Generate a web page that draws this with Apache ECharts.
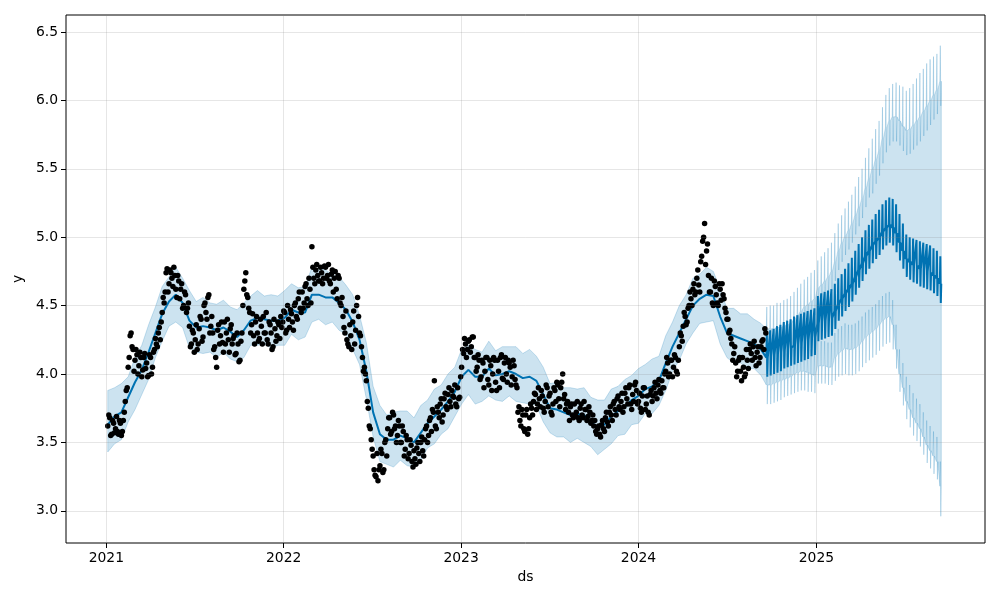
<!DOCTYPE html>
<html><head><meta charset="utf-8">
<script src="https://cdn.jsdelivr.net/npm/echarts@6/dist/echarts.min.js"></script>
<style>html,body{margin:0;padding:0;background:#fff}#c{width:1000px;height:600px}</style>
</head><body><div id="c"></div>
<script>
// ---------- data ----------
const yearTicks = ['2021', '2022', '2023', '2024', '2025'];
const yTicks = [3.0, 3.5, 4.0, 4.5, 5.0, 5.5, 6.0, 6.5];

// observed points, one every 4 days from 2021-01-04
const obsStart = '2021-01-04';
const obsStepDays = 4;
const obsValues = [
  3.62,3.68,3.56,3.64,3.60,3.58,3.66,3.55,3.66,3.80,
  3.90,4.12,4.30,4.18,4.10,4.14,4.06,4.12,4.03,4.15,
  4.08,3.99,4.12,4.05,4.18,4.22,4.30,4.25,4.45,4.52,
  4.74,4.60,4.76,4.70,4.78,4.62,4.72,4.55,4.66,4.50,
  4.58,4.48,4.35,4.22,4.30,4.25,4.18,4.33,4.40,4.27,
  4.52,4.40,4.58,4.35,4.30,4.20,4.05,4.36,4.28,4.23,
  4.38,4.30,4.25,4.33,4.22,4.28,4.15,4.22,4.10,4.30,
  4.62,4.74,4.56,4.45,4.36,4.28,4.38,4.30,4.26,4.35,
  4.42,4.30,4.25,4.38,4.30,4.20,4.33,4.28,4.36,4.42,
  4.38,4.45,4.32,4.40,4.47,4.38,4.50,4.42,4.55,4.48,
  4.60,4.52,4.66,4.50,4.62,4.93,4.70,4.76,4.72,4.68,
  4.74,4.70,4.78,4.72,4.68,4.73,4.60,4.75,4.55,4.70,
  4.50,4.42,4.30,4.25,4.20,4.28,4.38,4.22,4.50,4.42,
  4.28,4.12,4.05,3.95,3.75,3.60,3.45,3.30,3.25,3.22,
  3.33,3.42,3.30,3.52,3.60,3.68,3.58,3.70,3.62,3.55,
  3.62,3.50,3.58,3.45,3.52,3.42,3.48,3.32,3.38,3.46,
  3.42,3.50,3.44,3.52,3.62,3.55,3.68,3.74,3.95,3.60,
  3.72,3.78,3.65,3.82,3.76,3.85,3.80,3.88,3.83,3.78,
  3.90,3.83,4.05,4.15,4.22,4.18,4.25,4.20,4.27,4.12,
  4.05,4.10,3.98,4.08,4.02,4.12,3.92,4.06,4.00,4.10,
  3.88,4.02,4.12,3.97,4.08,4.00,4.10,4.05,3.98,4.06,
  3.92,3.72,3.66,3.74,3.60,3.70,3.56,3.68,3.75,3.80,
  3.85,3.78,3.82,3.88,3.75,3.80,3.90,3.84,3.72,3.78,
  3.88,3.94,3.82,3.90,4.00,3.85,3.78,3.72,3.76,3.70,
  3.78,3.72,3.68,3.75,3.70,3.80,3.74,3.69,3.72,3.66,
  3.62,3.58,3.60,3.56,3.63,3.60,3.68,3.65,3.72,3.70,
  3.78,3.74,3.82,3.76,3.80,3.72,3.86,3.82,3.90,3.78,
  3.85,3.92,3.88,3.80,3.75,3.84,3.90,3.78,3.72,3.85,
  3.80,3.90,3.86,3.92,3.88,3.95,3.90,4.02,4.08,4.00,
  4.10,4.05,4.12,4.00,4.20,4.28,4.35,4.42,4.38,4.50,
  4.55,4.62,4.58,4.70,4.65,4.82,4.97,5.10,4.90,4.72,
  4.60,4.52,4.68,4.58,4.50,4.62,4.66,4.55,4.45,4.40,
  4.32,4.22,4.15,4.08,4.02,4.12,3.95,4.05,4.00,4.10,
  4.18,4.15,4.20,4.12,4.16,4.08,4.20,4.25,4.33
];
// the observed points in between, one every 4 days from 2021-01-06
const obsAltStart = '2021-01-06';
const obsAltValues = [
  3.70,3.55,3.66,3.57,3.69,3.56,3.64,3.58,3.72,3.88,
  4.05,4.28,4.20,4.02,4.18,4.00,4.16,3.98,4.12,4.04,
  3.98,4.14,4.00,4.16,4.26,4.20,4.34,4.38,4.56,4.60,
  4.77,4.66,4.74,4.64,4.72,4.56,4.68,4.62,4.48,4.60,
  4.45,4.52,4.20,4.32,4.16,4.36,4.22,4.42,4.24,4.50,
  4.45,4.56,4.30,4.42,4.18,4.12,4.32,4.22,4.38,4.16,
  4.22,4.40,4.16,4.36,4.26,4.14,4.30,4.09,4.24,4.50,
  4.68,4.58,4.48,4.30,4.44,4.22,4.42,4.24,4.40,4.22,
  4.30,4.45,4.22,4.36,4.18,4.40,4.24,4.38,4.26,4.34,
  4.46,4.30,4.50,4.34,4.44,4.32,4.52,4.40,4.60,4.45,
  4.48,4.64,4.55,4.70,4.52,4.78,4.66,4.80,4.68,4.78,
  4.66,4.79,4.70,4.80,4.66,4.76,4.70,4.62,4.72,4.52,
  4.56,4.34,4.46,4.22,4.36,4.18,4.46,4.32,4.56,4.30,
  4.20,4.02,4.00,3.80,3.62,3.52,3.40,3.26,3.42,3.30,
  3.45,3.28,3.50,3.40,3.68,3.56,3.72,3.60,3.50,3.66,
  3.50,3.62,3.40,3.55,3.38,3.52,3.36,3.44,3.34,3.50,
  3.36,3.54,3.40,3.60,3.50,3.66,3.58,3.72,3.62,3.76,
  3.68,3.82,3.70,3.86,3.74,3.90,3.76,3.84,3.92,3.76,
  3.82,3.98,4.18,4.26,4.12,4.24,4.16,4.27,4.12,4.02,
  4.14,3.96,4.10,3.90,4.12,3.96,4.10,3.88,4.12,3.94,
  4.10,3.90,4.14,3.96,4.12,3.94,4.08,3.92,4.10,3.96,
  3.90,3.76,3.62,3.70,3.58,3.74,3.60,3.78,3.70,3.86,
  3.74,3.90,3.76,3.84,3.72,3.92,3.76,3.86,3.70,3.90,
  3.80,3.92,3.76,3.94,3.82,3.74,3.80,3.66,3.78,3.68,
  3.70,3.80,3.66,3.78,3.68,3.74,3.66,3.76,3.64,3.70,
  3.66,3.56,3.62,3.54,3.66,3.58,3.72,3.62,3.76,3.66,
  3.80,3.70,3.84,3.74,3.86,3.76,3.90,3.78,3.92,3.74,
  3.80,3.94,3.78,3.86,3.72,3.90,3.74,3.84,3.70,3.88,
  3.84,3.94,3.82,3.96,3.86,3.90,4.00,4.12,3.98,4.10,
  3.98,4.14,4.02,4.10,4.30,4.24,4.45,4.36,4.48,4.60,
  4.50,4.66,4.60,4.76,4.60,4.86,5.00,4.80,4.95,4.60,
  4.70,4.50,4.64,4.52,4.66,4.54,4.58,4.48,4.40,4.30,
  4.26,4.10,4.20,3.98,4.10,4.02,4.12,3.98,4.18,4.04,
  4.22,4.10,4.24,4.06,4.20,4.12,4.24,4.18,4.30
];

// fitted values over the history, one every 14 days from 2021-01-04
const histStart = '2021-01-04';
const histStepDays = 14;
const histYhat = [
  3.63,3.69,3.72,3.83,3.94,4.03,4.16,4.30,4.44,4.53,
  4.58,4.52,4.39,4.34,4.35,4.34,4.32,4.34,4.31,4.27,
  4.32,4.39,4.41,4.40,4.39,4.39,4.41,4.47,4.45,4.45,
  4.58,4.58,4.56,4.56,4.52,4.47,4.38,4.25,4.02,3.72,
  3.56,3.52,3.52,3.55,3.53,3.50,3.57,3.64,3.69,3.74,
  3.80,3.87,3.98,4.03,3.98,3.98,4.04,3.99,4.00,4.02,
  4.00,3.97,3.98,3.95,3.85,3.75,3.74,3.72,3.70,3.71,
  3.70,3.65,3.61,3.63,3.69,3.73,3.76,3.81,3.84,3.89,
  3.91,3.95,4.08,4.20,4.30,4.40,4.50,4.55,4.58,4.57,
  4.42,4.30,4.28,4.26,4.24,4.22,4.18
];
const histUpper = [
  3.88,3.90,3.93,3.98,4.12,4.21,4.36,4.49,4.64,4.71,
  4.78,4.70,4.61,4.53,4.56,4.52,4.51,4.54,4.49,4.47,
  4.52,4.57,4.61,4.57,4.58,4.57,4.61,4.66,4.63,4.64,
  4.78,4.77,4.76,4.73,4.71,4.65,4.58,4.43,4.23,3.91,
  3.77,3.70,3.72,3.73,3.73,3.68,3.77,3.81,3.89,3.92,
  4.00,4.05,4.18,4.21,4.18,4.16,4.24,4.17,4.20,4.20,
  4.20,4.15,4.18,4.13,4.05,3.93,3.94,3.90,3.90,3.89,
  3.90,3.83,3.81,3.81,3.89,3.91,3.96,3.99,4.04,4.07,
  4.11,4.13,4.28,4.38,4.50,4.58,4.70,4.73,4.78,4.75,
  4.62,4.48,4.48,4.44,4.44,4.40,4.37
];
const histLower = [
  3.43,3.49,3.52,3.65,3.74,3.85,3.96,4.12,4.24,4.35,
  4.38,4.34,4.19,4.16,4.15,4.16,4.12,4.16,4.11,4.09,
  4.12,4.21,4.21,4.22,4.19,4.21,4.21,4.29,4.25,4.27,
  4.38,4.40,4.36,4.38,4.32,4.29,4.18,4.07,3.82,3.54,
  3.36,3.34,3.32,3.37,3.33,3.32,3.37,3.46,3.49,3.56,
  3.60,3.69,3.78,3.85,3.78,3.80,3.84,3.81,3.80,3.84,
  3.80,3.79,3.78,3.77,3.65,3.57,3.54,3.54,3.50,3.53,
  3.50,3.47,3.41,3.45,3.49,3.55,3.56,3.63,3.64,3.71,
  3.71,3.77,3.88,4.02,4.10,4.22,4.30,4.37,4.38,4.39,
  4.22,4.12,4.08,4.08,4.04,4.04,3.99
];

// forecast, one entry per week; week w has its Saturday at fcFirstSaturday + 7w days
const fcFirstSaturday = '2024-09-21';
const fcMid = [ // weekdays
  4.12,4.13,4.14,4.15,4.16,4.17,4.18,4.19,4.21,4.22,
  4.23,4.24,4.25,4.26,4.27,4.37,4.38,4.39,4.40,4.41,
  4.46,4.51,4.55,4.59,4.62,4.66,4.71,4.76,4.81,4.86,
  4.90,4.94,4.97,5.00,5.04,5.07,5.09,5.07,5.03,4.96,
  4.90,4.84,4.82,4.80,4.79,4.77,4.76,4.75,4.74,4.72,
  4.70,4.66
];
const fcHi = [ // Saturday
  4.31,4.32,4.33,4.35,4.36,4.38,4.39,4.40,4.42,4.43,
  4.44,4.45,4.46,4.47,4.48,4.57,4.59,4.60,4.61,4.62,
  4.66,4.70,4.73,4.77,4.81,4.85,4.90,4.95,5.00,5.05,
  5.09,5.13,5.17,5.20,5.24,5.27,5.29,5.28,5.24,5.17,
  5.10,5.02,5.00,4.99,4.98,4.97,4.96,4.95,4.94,4.92,
  4.90,4.86
];
const fcLo = [ // Sunday
  3.98,3.99,4.00,4.01,4.02,4.04,4.05,4.06,4.07,4.08,
  4.09,4.10,4.11,4.13,4.14,4.24,4.25,4.26,4.27,4.28,
  4.33,4.39,4.42,4.46,4.49,4.53,4.58,4.63,4.68,4.73,
  4.77,4.81,4.84,4.87,4.91,4.94,4.96,4.94,4.89,4.83,
  4.77,4.71,4.69,4.67,4.66,4.64,4.63,4.62,4.61,4.59,
  4.57,4.52
];
const fcUpBase = [
  4.33,4.33,4.33,4.34,4.34,4.35,4.36,4.37,4.40,4.43,
  4.46,4.49,4.51,4.53,4.55,4.63,4.65,4.68,4.71,4.75,
  4.82,4.90,4.96,5.01,5.05,5.10,5.16,5.22,5.28,5.36,
  5.43,5.50,5.57,5.63,5.72,5.80,5.85,5.88,5.88,5.85,
  5.81,5.78,5.79,5.82,5.85,5.88,5.92,5.96,6.00,6.04,
  6.08,6.14
];
const fcUpSpike = [
  4.49,4.50,4.50,4.52,4.52,4.54,4.55,4.57,4.60,4.63,
  4.66,4.69,4.71,4.74,4.76,4.83,4.86,4.89,4.92,4.96,
  5.03,5.10,5.16,5.21,5.26,5.31,5.37,5.44,5.50,5.58,
  5.65,5.72,5.79,5.85,5.95,6.04,6.09,6.12,6.13,6.11,
  6.10,6.07,6.09,6.12,6.16,6.20,6.23,6.27,6.30,6.32,
  6.34,6.40
];
const fcUpDip = [
  4.21,4.21,4.21,4.22,4.22,4.23,4.24,4.25,4.28,4.31,
  4.34,4.37,4.39,4.41,4.43,4.49,4.51,4.54,4.57,4.61,
  4.68,4.76,4.82,4.87,4.91,4.96,5.02,5.08,5.14,5.22,
  5.29,5.32,5.39,5.45,5.54,5.62,5.67,5.70,5.70,5.67,
  5.63,5.60,5.61,5.64,5.67,5.70,5.74,5.78,5.82,5.86,
  5.90,5.96
];
const fcLoBase = [
  3.92,3.92,3.93,3.94,3.95,3.96,3.97,3.98,4.00,4.01,
  4.02,4.02,4.01,4.00,3.99,4.06,4.06,4.06,4.05,4.05,
  4.12,4.15,4.17,4.19,4.18,4.18,4.19,4.21,4.24,4.27,
  4.29,4.31,4.33,4.36,4.39,4.41,4.42,4.36,4.18,4.00,
  3.90,3.80,3.74,3.68,3.64,3.60,3.54,3.48,3.44,3.40,
  3.36,3.18
];
const fcLoRise = [
  4.10,4.10,4.11,4.12,4.13,4.14,4.15,4.16,4.18,4.19,
  4.20,4.20,4.19,4.18,4.17,4.24,4.24,4.24,4.23,4.23,
  4.30,4.33,4.35,4.37,4.36,4.36,4.37,4.39,4.42,4.45,
  4.47,4.49,4.51,4.54,4.57,4.59,4.60,4.54,4.36,4.18,
  4.08,3.98,3.92,3.86,3.82,3.78,3.72,3.66,3.62,3.58,
  3.54,3.36
];
const fcLoSpike = [
  3.78,3.78,3.79,3.80,3.81,3.83,3.84,3.85,3.86,3.87,
  3.88,3.88,3.87,3.87,3.86,3.93,3.93,3.93,3.92,3.92,
  3.95,3.98,3.99,4.00,3.99,3.99,4.00,4.02,4.05,4.08,
  4.10,4.12,4.14,4.17,4.20,4.22,4.23,4.18,4.04,3.87,
  3.77,3.67,3.61,3.55,3.51,3.47,3.41,3.35,3.31,3.27,
  3.23,2.96
];

// ---------- build series ----------
const DAY = 86400000;
function d(s) { const p = s.split('-').map(Number); return Date.UTC(p[0], p[1] - 1, p[2]); }

const obsT0 = d(obsStart);
const obsAltT0 = d(obsAltStart);
const obsData = obsValues.map((v, i) => [obsT0 + i * obsStepDays * DAY, v])
  .concat(obsAltValues.map((v, i) => [obsAltT0 + i * obsStepDays * DAY, v]));

const histT0 = d(histStart);
const yhatData = histYhat.map((v, i) => [histT0 + i * histStepDays * DAY, v]);
const upperData = histUpper.map((v, i) => [histT0 + i * histStepDays * DAY, v]);
const lowerData = histLower.map((v, i) => [histT0 + i * histStepDays * DAY, v]);

const sat0 = d(fcFirstSaturday);
fcMid.forEach((m, w) => {
  const sat = sat0 + w * 7 * DAY;
  yhatData.push([sat - DAY, m], [sat, fcHi[w]], [sat + DAY, fcLo[w]], [sat + 2 * DAY, m]);
  upperData.push([sat - DAY, fcUpBase[w]], [sat, fcUpSpike[w]], [sat + DAY, fcUpDip[w]], [sat + 2 * DAY, fcUpBase[w]]);
  lowerData.push([sat - DAY, fcLoBase[w]], [sat, fcLoRise[w]], [sat + DAY, fcLoSpike[w]], [sat + 2 * DAY, fcLoBase[w]]);
});

const firstDay = obsT0;
const lastDay = sat0 + (fcMid.length - 1) * 7 * DAY + 6 * DAY;
const pad = (lastDay - firstDay) * 0.05;
const yearValues = yearTicks.map(y => Date.UTC(+y, 0, 1));

const FONT = 'DejaVu Sans';
const BAND = 'rgba(0,114,178,0.2)';
const chart = echarts.init(document.getElementById('c'), null, { renderer: 'canvas' });
chart.setOption({
  animation: false,
  backgroundColor: '#fff',
  grid: { left: 66, right: 15, top: 15, bottom: 57, show: true, borderColor: '#000', borderWidth: 1, backgroundColor: 'transparent' },
  xAxis: {
    type: 'value', min: firstDay - pad, max: lastDay + pad, scale: true,
    name: 'ds', nameLocation: 'middle', nameGap: 27,
    nameTextStyle: { color: '#000', fontSize: 13.9, fontFamily: FONT },
    axisLine: { show: false },
    axisTick: { show: true, inside: false, length: 5, customValues: yearValues, lineStyle: { color: '#000', width: 1 } },
    axisLabel: { customValues: yearValues, margin: 8, color: '#000', fontSize: 13.9, fontFamily: FONT,
      formatter: v => String(new Date(v).getUTCFullYear()) },
    splitLine: { show: false }
  },
  yAxis: {
    type: 'value', min: 2.765, max: 6.624,
    name: 'y', nameLocation: 'middle', nameGap: 36, nameRotate: 90,
    nameTextStyle: { color: '#000', fontSize: 13.9, fontFamily: FONT },
    axisLine: { show: false },
    axisTick: { show: true, inside: false, length: 5, customValues: yTicks, lineStyle: { color: '#000', width: 1 } },
    axisLabel: { customValues: yTicks, margin: 8, color: '#000', fontSize: 13.9, fontFamily: FONT,
      formatter: v => v.toFixed(1) },
    splitLine: { show: false }
  },
  series: [
    { type: 'custom', name: 'band', data: [[firstDay, 4]], silent: true, z: 1, clip: true,
      renderItem: (params, api) => {
        const pts = upperData.map(p => api.coord(p))
          .concat(lowerData.slice().reverse().map(p => api.coord(p)));
        return { type: 'polygon', shape: { points: pts },
          style: { fill: BAND, stroke: BAND, lineWidth: 1 } };
      } },
    { type: 'line', name: 'grid', data: yhatData, showSymbol: false, symbol: 'none',
      lineStyle: { opacity: 0 }, silent: true, z: 2,
      markLine: { silent: true, symbol: ['none', 'none'], label: { show: false }, animation: false,
        lineStyle: { color: 'rgba(128,128,128,0.2)', width: 1, type: 'solid' },
        data: yTicks.map(v => ({ yAxis: v })).concat(yearValues.map(v => ({ xAxis: v }))) } },
    { type: 'line', name: 'yhat', data: yhatData, showSymbol: false, symbol: 'none',
      lineStyle: { color: '#0072B2', width: 2 }, z: 3 },
    { type: 'scatter', name: 'obs', data: obsData, symbolSize: 5.5, itemStyle: { color: '#000', opacity: 1 }, z: 4 }
  ]
});
</script>
</body></html>
